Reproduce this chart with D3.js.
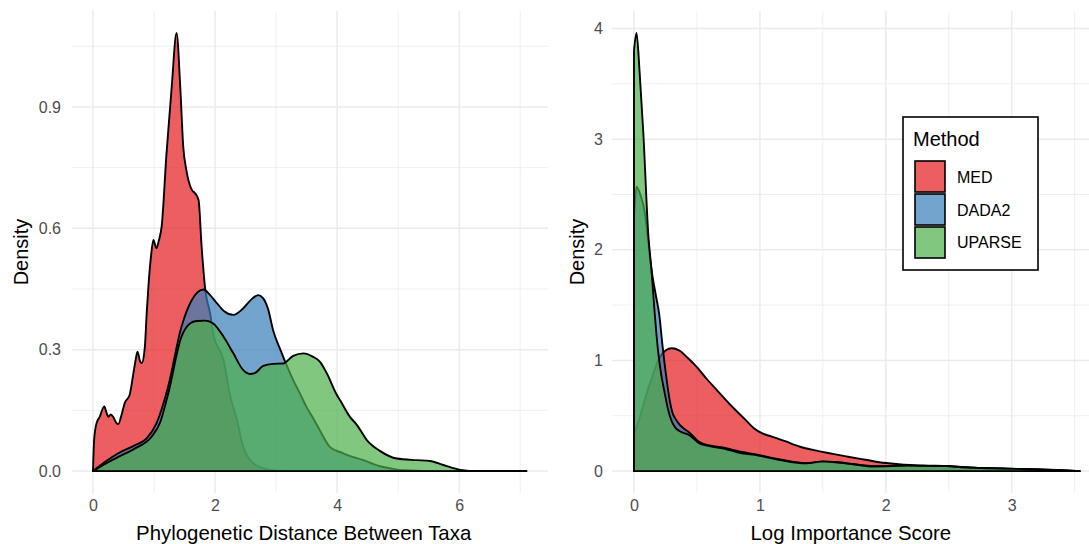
<!DOCTYPE html>
<html>
<head>
<meta charset="utf-8">
<script src="https://cdn.jsdelivr.net/npm/d3@7"></script>
<style>
  html, body { margin: 0; padding: 0; background: #fff; }
  svg { display: block; font-family: "Liberation Sans", Arial, Helvetica, sans-serif; }
</style>
</head>
<body>
<svg id="chart" width="1089" height="544"></svg>
<script>
// ---------------- data ----------------
const methods = ["MED", "DADA2", "UPARSE"];
const methodColors = ["#E41A1C", "#377EB8", "#4DAF4A"];

// Panel 1: Phylogenetic Distance Between Taxa (x, density)
const distMED = [[0,0],[0.02,0.08],[0.06,0.119],[0.11,0.134],[0.185,0.16],[0.22,0.145],[0.25,0.134],[0.29,0.14],[0.33,0.134],[0.38,0.12],[0.415,0.116],[0.47,0.14],[0.52,0.168],[0.6,0.188],[0.65,0.23],[0.69,0.267],[0.73,0.295],[0.77,0.272],[0.8,0.267],[0.85,0.307],[0.88,0.39],[0.91,0.46],[0.95,0.53],[0.99,0.571],[1.04,0.551],[1.08,0.57],[1.125,0.604],[1.205,0.786],[1.29,0.95],[1.37,1.083],[1.43,0.95],[1.48,0.8],[1.53,0.744],[1.62,0.695],[1.67,0.687],[1.73,0.67],[1.78,0.555],[1.84,0.448],[1.92,0.39],[1.97,0.34],[2.14,0.274],[2.25,0.184],[2.36,0.126],[2.46,0.06],[2.63,0.019],[2.79,0.007],[3.0,0.001],[3.5,0],[7.1,0]];
const distDADA2 = [[0,0],[0.2,0.023],[0.415,0.044],[0.69,0.064],[0.88,0.081],[1.04,0.118],[1.23,0.208],[1.45,0.357],[1.62,0.423],[1.72,0.443],[1.81,0.449],[1.92,0.435],[2.03,0.415],[2.15,0.395],[2.3,0.386],[2.46,0.402],[2.6,0.425],[2.71,0.435],[2.79,0.427],[2.87,0.4],[2.95,0.349],[3.07,0.3],[3.16,0.266],[3.28,0.225],[3.39,0.192],[3.5,0.158],[3.61,0.13],[3.72,0.1],[3.88,0.06],[4.1,0.044],[4.16,0.04],[4.43,0.027],[4.7,0.012],[4.87,0.007],[5.1,0.002],[5.5,0],[7.1,0]];
const distUPARSE = [[0,0],[0.2,0.018],[0.415,0.035],[0.69,0.056],[0.96,0.085],[1.1,0.12],[1.23,0.19],[1.45,0.332],[1.59,0.365],[1.7,0.371],[1.84,0.372],[1.97,0.365],[2.14,0.332],[2.3,0.291],[2.46,0.25],[2.57,0.24],[2.65,0.242],[2.79,0.26],[2.95,0.265],[3.12,0.266],[3.28,0.285],[3.45,0.291],[3.6,0.283],[3.72,0.27],[3.83,0.242],[3.99,0.19],[4.05,0.175],[4.21,0.134],[4.32,0.115],[4.49,0.076],[4.7,0.05],[4.98,0.031],[5.3,0.027],[5.52,0.025],[5.74,0.015],[6.02,0.003],[6.3,0],[7.1,0]];

// Panel 2: Log Importance Score (x, density)
const scoreMED = [[0,0.33],[0.05,0.5],[0.1,0.7],[0.15,0.87],[0.2,1.02],[0.25,1.09],[0.3,1.11],[0.36,1.09],[0.43,1.02],[0.5,0.94],[0.58,0.83],[0.66,0.73],[0.79,0.57],[0.88,0.47],[0.95,0.39],[1.02,0.34],[1.1,0.31],[1.2,0.27],[1.32,0.22],[1.45,0.185],[1.58,0.155],[1.7,0.13],[1.85,0.1],[1.95,0.08],[2.1,0.063],[2.3,0.05],[2.5,0.045],[2.7,0.03],[2.9,0.022],[3.1,0.015],[3.3,0.009],[3.54,0]];
const scoreDADA2 = [[0,2.3],[0.02,2.57],[0.05,2.5],[0.087,2.33],[0.113,2.08],[0.13,1.9],[0.15,1.74],[0.175,1.58],[0.2,1.42],[0.225,1.15],[0.24,1.0],[0.265,0.78],[0.285,0.63],[0.305,0.53],[0.33,0.47],[0.37,0.41],[0.443,0.345],[0.52,0.262],[0.6,0.232],[0.73,0.207],[0.82,0.182],[0.97,0.15],[1.16,0.105],[1.37,0.072],[1.5,0.085],[1.6,0.082],[1.75,0.062],[1.9,0.045],[2.05,0.047],[2.17,0.05],[2.3,0.046],[2.48,0.046],[2.6,0.036],[2.69,0.03],[2.85,0.026],[3.04,0.02],[3.2,0.015],[3.36,0.01],[3.54,0]];
const scoreUPARSE = [[0,3.8],[0.02,3.96],[0.045,3.6],[0.074,3.06],[0.113,2.15],[0.14,1.8],[0.165,1.42],[0.19,1.1],[0.215,0.88],[0.245,0.7],[0.27,0.56],[0.3,0.45],[0.33,0.39],[0.364,0.36],[0.443,0.322],[0.52,0.25],[0.6,0.225],[0.73,0.2],[0.82,0.17],[0.97,0.145],[1.16,0.1],[1.37,0.07],[1.5,0.088],[1.6,0.08],[1.75,0.06],[1.9,0.042],[2.05,0.045],[2.17,0.05],[2.3,0.047],[2.48,0.045],[2.6,0.035],[2.69,0.03],[2.85,0.025],[3.04,0.02],[3.2,0.016],[3.36,0.01],[3.54,0]];

const distXTicks = [0, 2, 4, 6];
const distXMinor = [1, 3, 5, 7];
const distYTicks = [0, 0.3, 0.6, 0.9];
const distYMinor = [0.15, 0.45, 0.75, 1.05];
const scoreXTicks = [0, 1, 2, 3];
const scoreXMinor = [0.5, 1.5, 2.5, 3.5];
const scoreYTicks = [0, 1, 2, 3, 4];
const scoreYMinor = [0.5, 1.5, 2.5, 3.5];

// ---------------- drawing ----------------
const svg = d3.select("#chart");

function drawPanel(cfg) {
  const xs = cfg.series.flat().map(d => d[0]);
  const ys = cfg.series.flat().map(d => d[1]);
  const xmin = d3.min(xs), xmax = d3.max(xs);
  const ymax = d3.max(ys);
  const xpad = (xmax - xmin) * 0.05, ypad = ymax * 0.05;
  const x = d3.scaleLinear().domain([xmin - xpad, xmax + xpad]).range([cfg.left, cfg.right]);
  const y = d3.scaleLinear().domain([-ypad, ymax + ypad]).range([cfg.bottom, cfg.top]);

  const g = svg.append("g");
  const clipId = "clip" + cfg.id;
  svg.append("clipPath").attr("id", clipId).append("rect")
    .attr("x", cfg.left).attr("y", cfg.top)
    .attr("width", cfg.right - cfg.left).attr("height", cfg.bottom - cfg.top);

  const grid = g.append("g").attr("clip-path", `url(#${clipId})`);
  grid.selectAll(".vminor").data(cfg.xMinor).join("line")
    .attr("x1", d => x(d)).attr("x2", d => x(d)).attr("y1", cfg.top).attr("y2", cfg.bottom)
    .attr("stroke", "#EBEBEB").attr("stroke-width", 0.8);
  grid.selectAll(".hminor").data(cfg.yMinor).join("line")
    .attr("y1", d => y(d)).attr("y2", d => y(d)).attr("x1", cfg.left).attr("x2", cfg.right)
    .attr("stroke", "#EBEBEB").attr("stroke-width", 0.8);
  grid.selectAll(".vmajor").data(cfg.xTicks).join("line")
    .attr("x1", d => x(d)).attr("x2", d => x(d)).attr("y1", cfg.top).attr("y2", cfg.bottom)
    .attr("stroke", "#EBEBEB").attr("stroke-width", 1.5);
  grid.selectAll(".hmajor").data(cfg.yTicks).join("line")
    .attr("y1", d => y(d)).attr("y2", d => y(d)).attr("x1", cfg.left).attr("x2", cfg.right)
    .attr("stroke", "#EBEBEB").attr("stroke-width", 1.5);

  const area = d3.area()
    .x(d => x(d[0])).y0(y(0)).y1(d => y(d[1]))
    .curve(d3.curveMonotoneX);
  const marks = g.append("g").attr("clip-path", `url(#${clipId})`);
  cfg.series.forEach((s, i) => {
    marks.append("path")
      .attr("d", area(s) + "Z")
      .attr("fill", methodColors[i]).attr("fill-opacity", 0.7)
      .attr("stroke", "#000").attr("stroke-width", 1.9)
      .attr("stroke-linejoin", "round");
  });

  const xAxis = d3.axisBottom(x).tickValues(cfg.xTicks).tickFormat(cfg.xFmt).tickSize(0).tickPadding(0);
  const ax = g.append("g").attr("transform", `translate(0,${cfg.bottom + 7})`).call(xAxis);
  ax.select(".domain").remove();
  ax.selectAll("text").attr("fill", "#4D4D4D").attr("font-size", 16).attr("dy", "0.71em")
    .attr("font-family", "Liberation Sans, Arial, sans-serif");

  const yAxis = d3.axisLeft(y).tickValues(cfg.yTicks).tickFormat(cfg.yFmt).tickSize(0).tickPadding(0);
  const ay = g.append("g").attr("transform", `translate(${cfg.ylabX},0)`).call(yAxis);
  ay.select(".domain").remove();
  ay.selectAll("text").attr("fill", "#4D4D4D").attr("font-size", 16)
    .attr("font-family", "Liberation Sans, Arial, sans-serif");

  g.append("text")
    .attr("x", (cfg.left + cfg.right) / 2 + cfg.titleShift).attr("y", 540)
    .attr("text-anchor", "middle").attr("font-size", 20.4).attr("fill", "#000")
    .text(cfg.xTitle);
  g.append("text")
    .attr("transform", `translate(${cfg.yTitleX},${(cfg.top + cfg.bottom) / 2}) rotate(-90)`)
    .attr("text-anchor", "middle").attr("font-size", 20).attr("fill", "#000")
    .text("Density");
}

drawPanel({
  id: 1, series: [distMED, distDADA2, distUPARSE],
  left: 71.3, right: 548, top: 11, bottom: 493,
  xTicks: distXTicks, xMinor: distXMinor, yTicks: distYTicks, yMinor: distYMinor,
  xFmt: d3.format("d"), yFmt: d3.format(".1f"),
  ylabX: 61, yTitleX: 28, xTitle: "Phylogenetic Distance Between Taxa", titleShift: -6
});
drawPanel({
  id: 2, series: [scoreMED, scoreDADA2, scoreUPARSE],
  left: 611.7, right: 1102, top: 11, bottom: 493,
  xTicks: scoreXTicks, xMinor: scoreXMinor, yTicks: scoreYTicks, yMinor: scoreYMinor,
  xFmt: d3.format("d"), yFmt: d3.format("d"),
  ylabX: 603, yTitleX: 584, xTitle: "Log Importance Score", titleShift: -6
});

// legend
const lg = svg.append("g").attr("transform", "translate(903,117)");
lg.append("rect").attr("width", 135).attr("height", 153)
  .attr("fill", "#fff").attr("stroke", "#000").attr("stroke-width", 1.6);
lg.append("text").attr("x", 10).attr("y", 29).attr("font-size", 20).attr("fill", "#000").text("Method");
const ky = d3.scaleBand().domain(methods).range([44, 141]).paddingInner(0.06);
methods.forEach((m, i) => {
  lg.append("rect").attr("x", 12).attr("y", ky(m)).attr("width", 30).attr("height", ky.bandwidth())
    .attr("fill", methodColors[i]).attr("fill-opacity", 0.7)
    .attr("stroke", "#000").attr("stroke-width", 1.6);
  lg.append("text").attr("x", 54).attr("y", ky(m) + ky.bandwidth() / 2 + 6)
    .attr("font-size", 16).attr("fill", "#000").text(m);
});
</script>
</body>
</html>
